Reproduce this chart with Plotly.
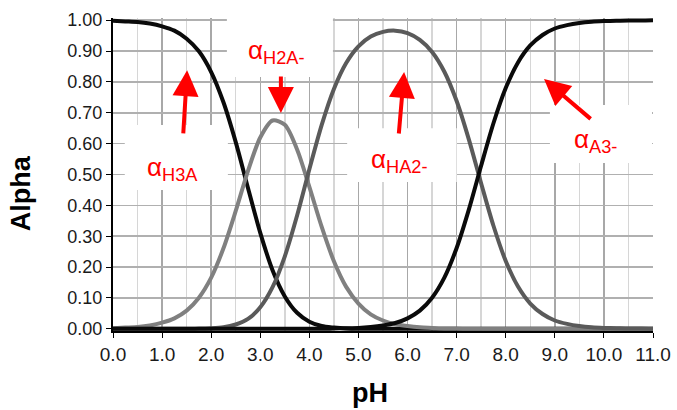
import plotly.graph_objects as go

# ---- data ----
ph = [0.0, 0.25, 0.5, 0.75, 1.0, 1.25, 1.5, 1.75, 2.0, 2.25, 2.5, 2.75, 3.0, 3.25, 3.5, 3.75,
      4.0, 4.25, 4.5, 4.75, 5.0, 5.25, 5.5, 5.75, 6.0, 6.25, 6.5, 6.75, 7.0, 7.25, 7.5, 7.75,
      8.0, 8.25, 8.5, 8.75, 9.0, 9.25, 9.5, 9.75, 10.0, 10.25, 10.5, 10.75, 11.0]

alpha_h3a = [0.998, 0.996, 0.994, 0.989, 0.980, 0.966, 0.940, 0.899, 0.832, 0.734, 0.605, 0.456,
             0.311, 0.190, 0.105, 0.052, 0.023, 0.009, 0.004, 0.001, 0.000, 0.000, 0.000, 0.000,
             0.000, 0.000, 0.000, 0.000, 0.000, 0.000, 0.000, 0.000, 0.000, 0.000, 0.000, 0.000,
             0.000, 0.000, 0.000, 0.000, 0.000, 0.000, 0.000, 0.000, 0.000]

alpha_h2a = [0.002, 0.004, 0.006, 0.011, 0.020, 0.034, 0.059, 0.101, 0.166, 0.261, 0.382, 0.512,
             0.620, 0.675, 0.661, 0.581, 0.460, 0.331, 0.219, 0.136, 0.082, 0.047, 0.027, 0.015,
             0.009, 0.005, 0.003, 0.001, 0.001, 0.000, 0.000, 0.000, 0.000, 0.000, 0.000, 0.000,
             0.000, 0.000, 0.000, 0.000, 0.000, 0.000, 0.000, 0.000, 0.000]

alpha_ha2 = [0.000, 0.000, 0.000, 0.000, 0.000, 0.000, 0.000, 0.001, 0.002, 0.005, 0.014, 0.032,
             0.070, 0.135, 0.235, 0.367, 0.517, 0.660, 0.777, 0.861, 0.915, 0.947, 0.962, 0.966,
             0.958, 0.936, 0.897, 0.833, 0.738, 0.613, 0.471, 0.334, 0.220, 0.137, 0.082, 0.048,
             0.027, 0.016, 0.009, 0.005, 0.003, 0.002, 0.001, 0.001, 0.000]

alpha_a3 = [0.000, 0.000, 0.000, 0.000, 0.000, 0.000, 0.000, 0.000, 0.000, 0.000, 0.000, 0.000,
            0.000, 0.000, 0.000, 0.000, 0.000, 0.000, 0.001, 0.002, 0.003, 0.006, 0.011, 0.019,
            0.034, 0.059, 0.101, 0.166, 0.262, 0.387, 0.529, 0.666, 0.780, 0.863, 0.918, 0.952,
            0.973, 0.984, 0.991, 0.995, 0.997, 0.998, 0.999, 0.999, 1.000]

series_names = ["α<sub>H3A</sub>", "α<sub>H2A-</sub>", "α<sub>HA2-</sub>", "α<sub>A3-</sub>"]
series_values = [alpha_h3a, alpha_h2a, alpha_ha2, alpha_a3]
series_colors = ["#0a0a0a", "#808080", "#5a5a5a", "#0a0a0a"]

x_ticks = [0, 1, 2, 3, 4, 5, 6, 7, 8, 9, 10, 11]
y_ticks = [0.0, 0.1, 0.2, 0.3, 0.4, 0.5, 0.6, 0.7, 0.8, 0.9, 1.0]

# label positions (pH, alpha) and arrows (tip, tail)
label_pos = [(1.22, 0.52), (3.32, 0.90), (5.82, 0.545), (9.82, 0.61)]
arrow_tip = [(1.51, 0.838), (3.42, 0.699), (5.93, 0.832), (8.78, 0.809)]
arrow_tail = [(1.43, 0.628), (3.42, 0.822), (5.82, 0.628), (9.76, 0.676)]
label_boxes = [(0.24, 2.34, 0.45, 0.66), (2.32, 4.48, 0.816, 1.05),
               (4.77, 7.0, 0.476, 0.65), (8.9, 10.98, 0.537, 0.725)]

fig = go.Figure()
for name, vals, col in zip(series_names, series_values, series_colors):
    fig.add_trace(go.Scatter(x=ph, y=vals, mode="lines", name=name,
                             line=dict(color=col, width=4, shape="spline", smoothing=0.8),
                             hoverinfo="skip"))

for (x0, x1, y0, y1) in label_boxes:
    fig.add_shape(type="rect", xref="x", yref="y", x0=x0, x1=x1, y0=y0, y1=y1,
                  fillcolor="white", line=dict(width=0), layer="between")

annotations = []
for name, (lx, ly) in zip(series_names, label_pos):
    annotations.append(dict(x=lx, y=ly, xref="x", yref="y", text=name, showarrow=False,
                            font=dict(family="Liberation Sans, Arial", size=26, color="#ff0000"),
                            xanchor="center", yanchor="middle"))
for (tx, ty), (sx, sy) in zip(arrow_tip, arrow_tail):
    annotations.append(dict(x=tx, y=ty, ax=sx, ay=sy, xref="x", yref="y", axref="x", ayref="y",
                            text="", showarrow=True, arrowhead=2, arrowsize=1.3, arrowwidth=4,
                            arrowcolor="#ff0000", standoff=0, startstandoff=0))

annotations.append(dict(x=-0.170, y=0.441, xref="paper", yref="paper", text="<b>Alpha</b>",
                        textangle=-90, showarrow=False, xanchor="center", yanchor="middle",
                        font=dict(family="Liberation Sans, Arial", size=27, color="#000000")))
annotations.append(dict(x=0.476, y=-0.198, xref="paper", yref="paper", text="<b>pH</b>",
                        showarrow=False, xanchor="center", yanchor="middle",
                        font=dict(family="Liberation Sans, Arial", size=27, color="#000000")))

fig.update_layout(
    width=677, height=410,
    margin=dict(l=113, r=24, t=18, b=79),
    paper_bgcolor="white", plot_bgcolor="white",
    showlegend=False,
    annotations=annotations,
    font=dict(family="Liberation Sans, Arial", size=18, color="#1a1a1a"),
)

fig.update_xaxes(range=[0, 11], tickvals=x_ticks, ticktext=[f"{v:.1f}" for v in x_ticks],
                 showgrid=True, gridcolor="#a8a8a8", gridwidth=1.5,
                 minor=dict(dtick=0.5, tick0=0, showgrid=True, gridcolor="#d6d6d6", gridwidth=1.5),
                 showline=True, linecolor="#000000", linewidth=2,
                 ticks="outside", ticklen=5, tickcolor="#000000", tickwidth=1,
                 zeroline=False, tickfont=dict(size=19), automargin=False)
fig.update_yaxes(range=[-0.007, 1.007], tickvals=y_ticks, ticktext=[f"{v:.2f}" for v in y_ticks],
                 showgrid=True, gridcolor="#b0b0b0", gridwidth=1.5,
                 showline=True, linecolor="#000000", linewidth=2,
                 ticks="outside", ticklen=5, tickcolor="#000000", tickwidth=1,
                 zeroline=False, tickfont=dict(size=18), automargin=False)

fig.write_html("out.html",
               config={"displayModeBar": False, "staticPlot": True},
               post_script="document.body.style.margin='0';document.body.style.overflow='hidden';")
